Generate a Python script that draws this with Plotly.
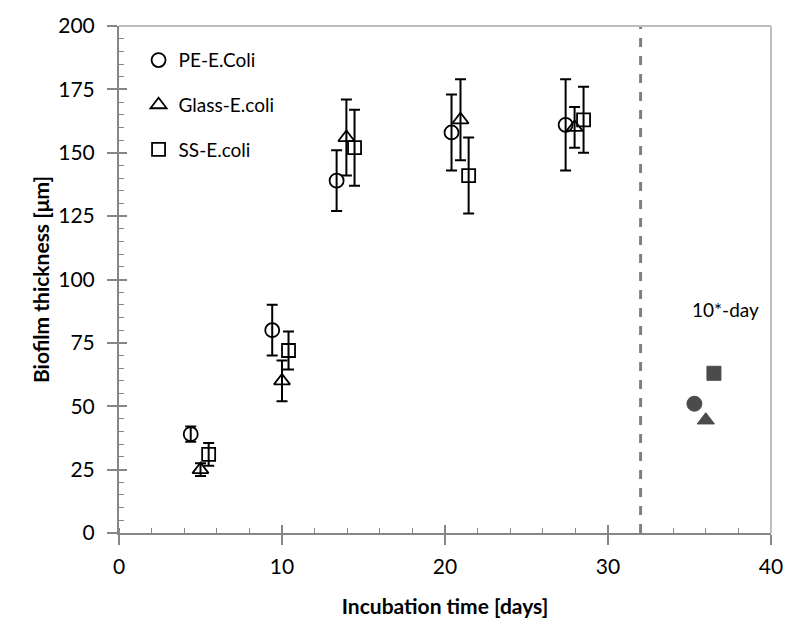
import plotly.graph_objects as go

# ---- data ----
pe_x = [4.4, 9.4, 13.35, 20.4, 27.4]
pe_y = [39, 80, 139, 158, 161]
pe_err = [3, 10, 12, 15, 18]

glass_x = [5.0, 10.0, 13.95, 20.95, 27.95]
glass_y = [25, 60, 156, 163, 160]
glass_err = [2.5, 8, 15, 16, 8]

ss_x = [5.5, 10.4, 14.45, 21.45, 28.5]
ss_y = [31, 72, 152, 141, 163]
ss_err = [4.5, 7.5, 15, 15, 13]

day10_x = [35.3, 36.0, 36.5]
day10_y = [51, 44.5, 63]
day10_sym = ["circle", "triangle-up", "square"]

FONT = "Lato, 'Open Sans', Arial, sans-serif"
AX = "#868686"

fig = go.Figure()

def add_series(x, y, err, sym, name, size):
    fig.add_trace(go.Scatter(
        x=x, y=y, mode="markers", name=name,
        legendgroup=name,
        marker=dict(symbol=sym + "-open", size=size, color="black",
                    line=dict(color="black", width=1.8)),
        error_y=dict(type="data", array=err, visible=True, color="black",
                     thickness=2, width=5.5),
    ))

add_series(pe_x, pe_y, pe_err, "circle", "PE-E.Coli", 14)
add_series(glass_x, glass_y, glass_err, "triangle-up", "Glass-E.coli", 14)
add_series(ss_x, ss_y, ss_err, "square", "SS-E.coli", 13)

fig.add_trace(go.Scatter(
    x=day10_x, y=day10_y, mode="markers", showlegend=False,
    marker=dict(symbol=day10_sym, size=[15, 15, 14], color="#000000",
                line=dict(color="#000000", width=1)),
))

# dashed separator at x=32
fig.add_shape(type="line", x0=32, x1=32, y0=0, y1=200, xref="x", yref="y",
              line=dict(color="#808080", width=3, dash="dash"))

# top & right border
fig.add_shape(type="line", x0=0, x1=1, y0=1, y1=1, xref="x domain", yref="y domain",
              line=dict(color="#bfbfbf", width=2))
fig.add_shape(type="line", x0=1, x1=1, y0=0, y1=1, xref="x domain", yref="y domain",
              line=dict(color="#bfbfbf", width=2))

fig.add_annotation(x=37.2, y=88, xref="x", yref="y", text="10*-day", showarrow=False,
                   font=dict(family=FONT, size=19, color="black"))

fig.update_layout(
    width=795, height=635,
    margin=dict(l=119, r=16, t=22, b=102),
    plot_bgcolor="white", paper_bgcolor="white",
    font=dict(family=FONT, size=19, color="black"),
    showlegend=True,
    legend=dict(x=0.03, y=0.97, xanchor="left", yanchor="top",
                bgcolor="rgba(0,0,0,0)", font=dict(family=FONT, size=19, color="black"),
                tracegroupgap=17, itemwidth=30),
    xaxis=dict(range=[0, 40], dtick=10, tick0=0, showgrid=False, zeroline=False,
               showline=True, linecolor=AX, linewidth=2,
               ticks="outside", ticklen=10, tickcolor=AX, tickwidth=1.5,
               minor=dict(dtick=2, ticks="inside", ticklen=5, tickcolor=AX, tickwidth=1.2),
               tickfont=dict(size=21), ticklabelstandoff=4,
               title=dict(text="<b>Incubation time [days]</b>", font=dict(size=21), standoff=22)),
    yaxis=dict(range=[0, 200], dtick=25, tick0=0, showgrid=False, zeroline=False,
               showline=True, linecolor=AX, linewidth=2,
               ticks="outside", ticklen=10, tickcolor=AX, tickwidth=1.5,
               minor=dict(dtick=5, ticks="inside", ticklen=5, tickcolor=AX, tickwidth=1.2),
               tickfont=dict(size=21), ticklabelstandoff=8,
               title=dict(text="<b>Biofilm thickness [μm]</b>", font=dict(size=21), standoff=3)),
    xaxis2=dict(range=[0, 40], dtick=10, tick0=0, overlaying="x", anchor="y",
                showgrid=False, zeroline=False, showline=False, showticklabels=False,
                ticks="inside", ticklen=8, tickcolor=AX, tickwidth=1.5),
    yaxis2=dict(range=[0, 200], dtick=25, tick0=0, overlaying="y", anchor="x",
                showgrid=False, zeroline=False, showline=False, showticklabels=False,
                ticks="inside", ticklen=8, tickcolor=AX, tickwidth=1.5),
)

# invisible trace to activate overlay axes for crossing major ticks
fig.add_trace(go.Scatter(x=[0], y=[0], xaxis="x2", yaxis="y2", mode="markers",
                         marker=dict(opacity=0), showlegend=False, hoverinfo="skip"))

fig.write_html("out.html")
